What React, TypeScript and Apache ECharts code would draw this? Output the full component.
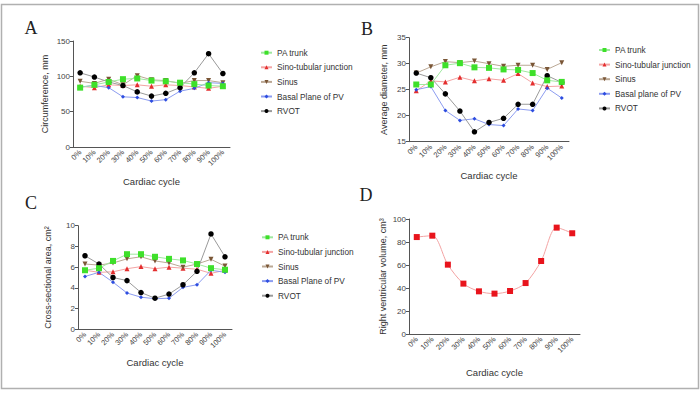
import React, { useEffect, useRef } from "react";
import * as echarts from "echarts";

const categories = ["0%", "10%", "20%", "30%", "40%", "50%", "60%", "70%", "80%", "90%", "100%"];
const seriesNames = ["PA trunk", "Sino-tubular junction", "Sinus", "Basal Plane of PV", "RVOT"];
const seriesNamesB = ["PA trunk", "Sino-tubular junction", "Sinus", "Basal plane of PV", "RVOT"];

// Panel A: Circumference, mm
const aPATrunk = [84, 88, 92, 96, 97, 94, 93, 91, 89, 87, 86];
const aSinoTubular = [86, 84, 88, 87, 88, 86, 88, 87, 85, 83, 86];
const aSinus = [93, 90, 96, 88, 101, 95, 94, 90, 94, 94, 91];
const aBasal = [85, 87, 84, 71, 70, 65, 67, 79, 83, 91, 90];
const aRVOT = [105, 99, 92, 87, 78, 72, 76, 84, 105, 132, 104];

// Panel B: Average diameter, mm
const bPATrunk = [26.0, 26.0, 29.7, 30.1, 29.3, 29.2, 28.9, 28.8, 28.2, 26.8, 26.5];
const bSinoTubular = [24.8, 26.7, 26.5, 27.4, 26.7, 27.1, 26.8, 28.1, 26.3, 25.6, 25.7];
const bSinus = [28.2, 29.4, 30.4, 30.2, 30.5, 30.0, 29.5, 29.7, 29.7, 28.9, 30.2];
const bBasal = [25.0, 25.6, 21.0, 19.1, 19.4, 18.3, 18.1, 21.3, 21.0, 25.3, 23.4];
const bRVOT = [28.2, 27.3, 24.2, 20.9, 16.9, 18.7, 19.5, 22.2, 22.2, 27.7, 26.4];

// Panel C: Cross-sectional area, cm²
const cPATrunk = [5.7, 5.9, 6.6, 7.25, 7.25, 7.0, 6.8, 6.65, 6.3, 5.9, 5.75];
const cSinoTubular = [5.7, 5.5, 5.55, 5.85, 6.05, 5.85, 6.0, 5.9, 5.8, 5.4, 5.7];
const cSinus = [6.3, 6.2, 6.4, 6.8, 7.0, 6.6, 6.4, 6.0, 6.3, 6.75, 6.1];
const cBasal = [5.1, 5.5, 4.55, 3.5, 3.1, 2.95, 3.0, 4.05, 4.3, 5.7, 5.5];
const cRVOT = [7.1, 6.3, 5.0, 4.7, 3.55, 3.0, 3.4, 4.3, 5.6, 9.2, 7.0];

// Panel D: Right ventricular volume, cm³
const dVolume = [84.3, 85.5, 60.3, 43.8, 37.1, 35.1, 37.4, 44.3, 63.5, 92.5, 87.6];

const styles = [
  { line: "#9fe89f", mark: "#3ee02a", symbol: "rect", size: 6, rotate: 0 },
  { line: "#f4a4a4", mark: "#e42e2e", symbol: "triangle", size: 5, rotate: 0 },
  { line: "#bba895", mark: "#7a5636", symbol: "triangle", size: 5, rotate: 180 },
  { line: "#8c9cf0", mark: "#2d4de0", symbol: "diamond", size: 4, rotate: 0 },
  { line: "#9a9a9a", mark: "#000000", symbol: "circle", size: 5.5, rotate: 0 },
];

const FONT = "Liberation Sans, Arial, sans-serif";
const AX = "#555";

function xAxisDef(gridIndex: number, nameGap: number) {
  return {
    type: "category",
    gridIndex,
    data: categories,
    boundaryGap: true,
    name: "Cardiac cycle",
    nameLocation: "middle",
    nameGap,
    nameTextStyle: { fontFamily: FONT, fontSize: 9.5, color: "#333" },
    axisLine: { lineStyle: { color: AX, width: 1 } },
    axisTick: { alignWithLabel: true, length: 3, lineStyle: { color: AX } },
    axisLabel: { rotate: 45, fontFamily: FONT, fontSize: 7.5, color: "#444", margin: 4, interval: 0 },
    splitLine: { show: false },
  };
}

function yAxisDef(gridIndex: number, name: string, min: number, max: number, interval: number, nameGap: number) {
  return {
    type: "value",
    gridIndex,
    min,
    max,
    interval,
    name,
    nameLocation: "middle",
    nameGap,
    nameTextStyle: { fontFamily: FONT, fontSize: 9, color: "#333" },
    axisLine: { show: true, lineStyle: { color: AX, width: 1 } },
    axisTick: { show: true, length: 3, lineStyle: { color: AX } },
    axisLabel: { fontFamily: FONT, fontSize: 8, color: "#444", margin: 3 },
    splitLine: { show: false },
  };
}

function makeSeries(names: string[], data: number[][], idx: number) {
  return names.map((n, i) => ({
    type: "line",
    name: n,
    xAxisIndex: idx,
    yAxisIndex: idx,
    data: data[i],
    symbol: styles[i].symbol,
    symbolSize: styles[i].size,
    symbolRotate: styles[i].rotate,
    lineStyle: { color: styles[i].line, width: 1 },
    itemStyle: { color: styles[i].mark },
    z: 2 + (i === 0 ? 1 : 0),
  }));
}

function legendDef(names: string[], left: number, top: number) {
  return {
    data: names,
    orient: "vertical",
    left,
    top,
    itemWidth: 11,
    itemHeight: 5,
    itemGap: 4.6,
    selectedMode: false,
    textStyle: { fontFamily: FONT, fontSize: 8.3, color: "#333", lineHeight: 10 },
  };
}

export default function App() {
  const ref = useRef<HTMLDivElement>(null);
  useEffect(() => {
    if (!ref.current) return;
    const chart = echarts.init(ref.current, undefined, { renderer: "svg" });
    const letter = (t: string, x: number, y: number) => ({
      type: "text",
      x,
      y,
      style: { text: t, fontFamily: "Liberation Serif, Times New Roman, serif", fontSize: 18, fill: "#222", textAlign: "center", textVerticalAlign: "middle" },
    });
    chart.setOption({
      animation: false,
      backgroundColor: "#fff",
      grid: [
        { left: 73, top: 41, width: 157, height: 106 },
        { left: 409, top: 37.7, width: 160, height: 104 },
        { left: 78, top: 225.7, width: 154, height: 103.6 },
        { left: 409, top: 219, width: 171, height: 115 },
      ],
      xAxis: [xAxisDef(0, 29), xAxisDef(1, 29), xAxisDef(2, 28), xAxisDef(3, 33)],
      yAxis: [
        yAxisDef(0, "Circumference, mm", 0, 150, 50, 24),
        yAxisDef(1, "Average diameter, mm", 15, 35, 5, 21),
        yAxisDef(2, "Cross-sectional area, cm²", 0, 10, 2, 26),
        yAxisDef(3, "Right ventricular volume, cm³", 0, 100, 20, 22),
      ],
      legend: [
        legendDef(seriesNames, 255, 42.7),
        legendDef(seriesNamesB, 593, 40),
        legendDef(seriesNames, 256, 227.3),
      ],
      graphic: [
        { type: "rect", shape: { x: 1.5, y: 4.5, width: 697, height: 384 }, style: { fill: "none", stroke: "#b0b0b0", lineWidth: 1.5 }, silent: true },
        letter("A", 31, 28),
        letter("B", 367, 29),
        letter("C", 31, 203),
        letter("D", 366, 195),
      ],
      series: [
        ...makeSeries(seriesNames, [aPATrunk, aSinoTubular, aSinus, aBasal, aRVOT], 0),
        ...makeSeries(seriesNamesB, [bPATrunk, bSinoTubular, bSinus, bBasal, bRVOT], 1),
        ...makeSeries(seriesNames, [cPATrunk, cSinoTubular, cSinus, cBasal, cRVOT], 2),
        {
          type: "line",
          name: "Right ventricular volume",
          xAxisIndex: 3,
          yAxisIndex: 3,
          data: dVolume,
          smooth: 0.3,
          symbol: "rect",
          symbolSize: 6,
          lineStyle: { color: "#f3a3a3", width: 1 },
          itemStyle: { color: "#e8141c" },
        },
      ],
    });
    return () => chart.dispose();
  }, []);
  return <div ref={ref} style={{ position: "fixed", left: 0, top: 0, width: 700, height: 393 }} />;
}
